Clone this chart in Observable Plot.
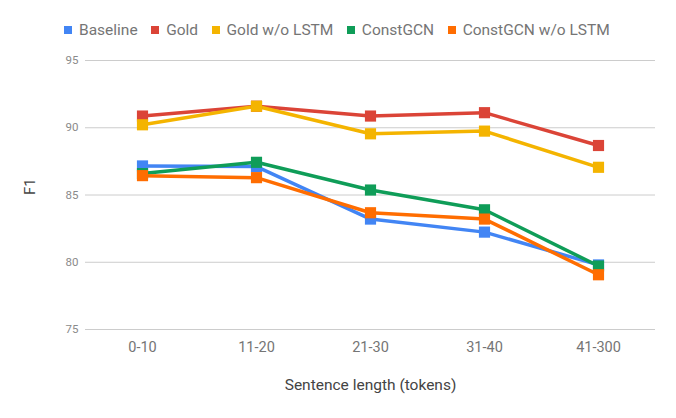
<!DOCTYPE html>
<html><head><meta charset="utf-8">
<script src="https://cdn.jsdelivr.net/npm/d3@7"></script>
<script src="https://cdn.jsdelivr.net/npm/@observablehq/plot@0.6"></script>
<style>
body{margin:0;background:#fff;font-family:Roboto,sans-serif;}
#legend{height:45px;display:flex;align-items:center;padding-left:64px;padding-top:15px;box-sizing:border-box;font-size:15.5px;color:#757575;}
#legend span.item{display:flex;align-items:center;margin-right:13.5px;}
#legend span.sw{width:8px;height:8px;margin-right:7px;display:inline-block;}
</style></head>
<body>
<div id="legend"></div>
<div id="chart"></div>
<script>
const categories = ["0-10","11-20","21-30","31-40","41-300"];
const seriesNames = ["Baseline","Gold","Gold w/o LSTM","ConstGCN","ConstGCN w/o LSTM"];
const colors = ["#4285F4","#DB4437","#F4B400","#0F9D58","#FF6D01"];
const baseline = [87.16, 87.11, 83.21, 82.24, 79.8];
const gold = [90.87, 91.6, 90.87, 91.12, 88.68];
const goldNoLSTM = [90.22, 91.6, 89.55, 89.75, 87.06];
const constGCN = [86.59, 87.43, 85.37, 83.9, 79.72];
const constGCNNoLSTM = [86.44, 86.29, 83.68, 83.21, 79.07];
const yTicks = [75, 80, 85, 90, 95];

const all = [baseline, gold, goldNoLSTM, constGCN, constGCNNoLSTM];
const data = [];
all.forEach((vals, si) => vals.forEach((v, i) => data.push({series: seriesNames[si], cat: categories[i], value: v})));

const leg = document.getElementById("legend");
seriesNames.forEach((n, i) => {
  const s = document.createElement("span"); s.className = "item";
  s.innerHTML = `<span class="sw" style="background:${colors[i]}"></span>${n}`;
  leg.appendChild(s);
});

const chart = Plot.plot({
  width: 676, height: 373,
  marginLeft: 85, marginRight: 21, marginTop: 15, marginBottom: 89,
  style: {fontFamily: "Roboto, sans-serif", background: "#fff"},
  x: {type: "point", domain: categories, padding: 0.5, label: null},
  y: {domain: [75, 95], label: null},
  color: {domain: seriesNames, range: colors},
  marks: [
    Plot.gridY(yTicks, {stroke: "#cccccc", strokeOpacity: 1, strokeWidth: 1}),
    Plot.axisY(yTicks, {tickSize: 0, tickPadding: 7, fontSize: 11.5, color: "#8a8a8a", label: null}),
    Plot.axisX({tickSize: 0, tickPadding: 12, fontSize: 14.5, color: "#757575", label: null}),
    Plot.line(data, {x: "cat", y: "value", z: "series", stroke: "series", strokeWidth: 3.5}),
    Plot.dot(data, {x: "cat", y: "value", fill: "series", symbol: "square", r: 6.3}),
    Plot.text(["F1"], {frameAnchor: "left", dx: -55, fontSize: 15, fill: "#444", rotate: -90}),
    Plot.text(["Sentence length (tokens)"], {frameAnchor: "bottom", dy: 60, fontSize: 15.5, fill: "#444"})
  ]
});
document.getElementById("chart").appendChild(chart);
</script>
</body></html>
